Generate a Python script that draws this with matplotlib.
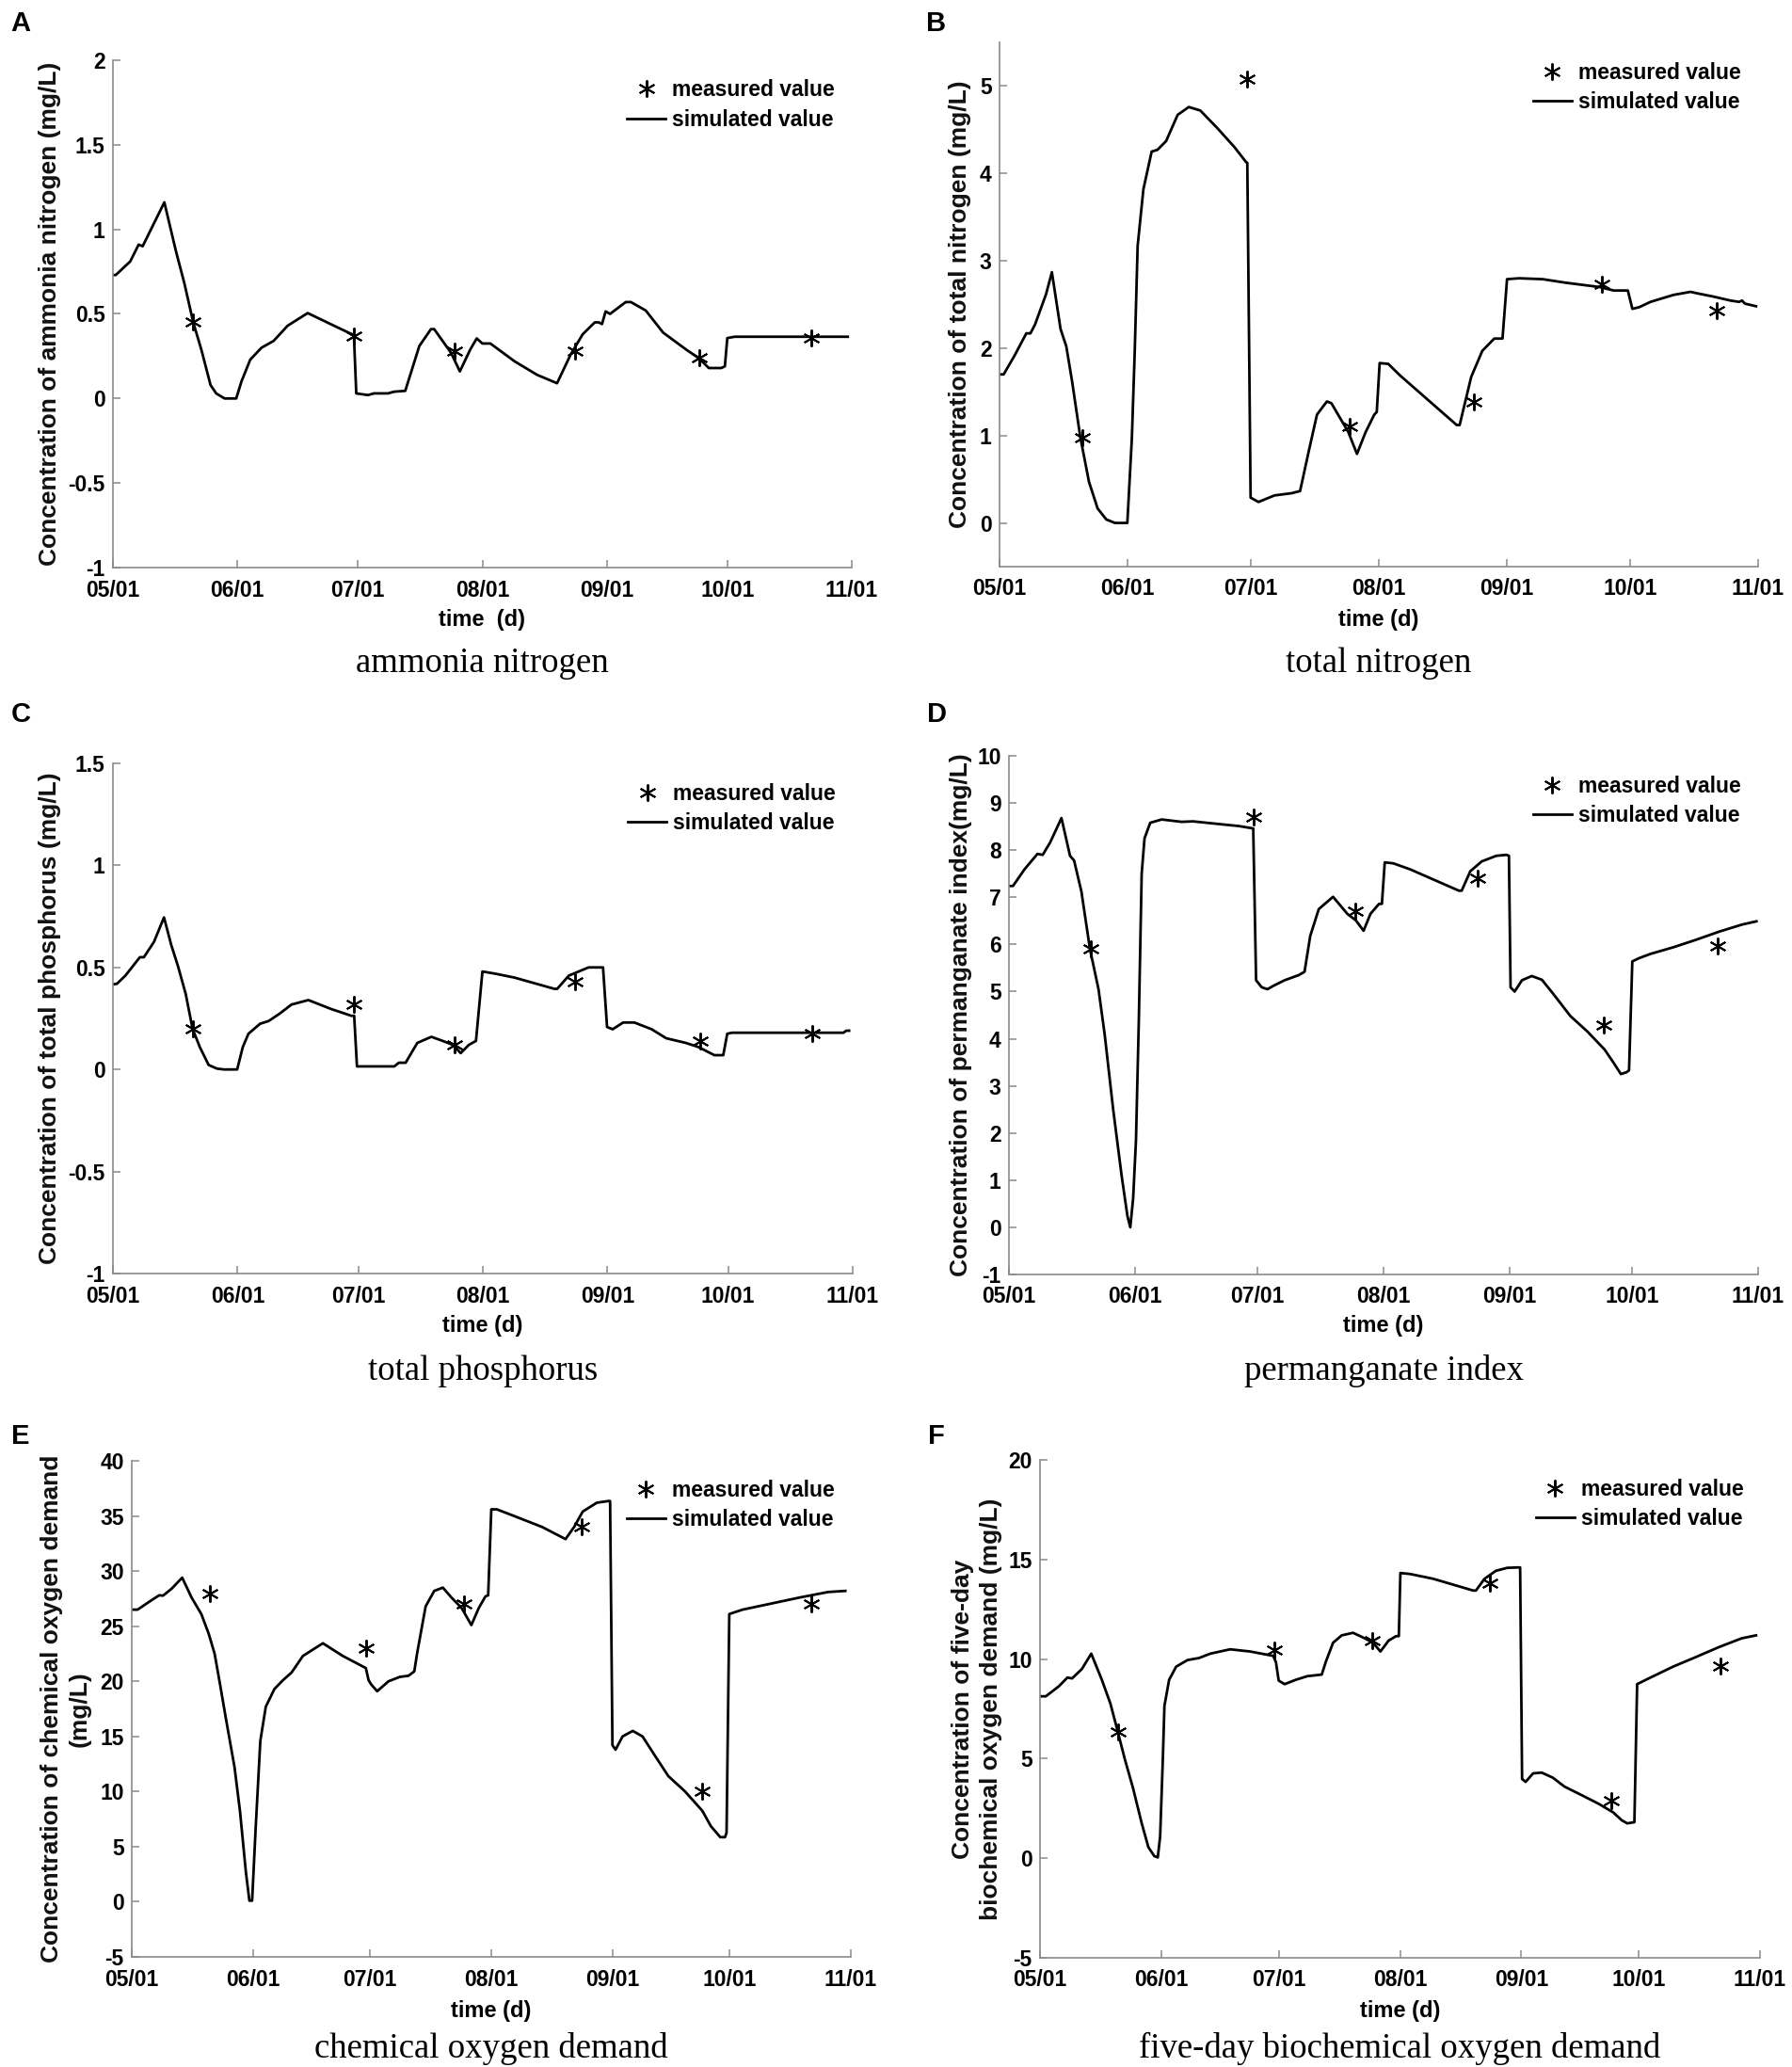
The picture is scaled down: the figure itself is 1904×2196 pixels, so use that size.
import matplotlib
matplotlib.use("Agg")
import matplotlib.pyplot as plt
from matplotlib.lines import Line2D

plt.rcParams["font.family"] = ["Liberation Sans", "DejaVu Sans"]

# x positions are days counted from 05/01
month_ticks = [0, 31, 61, 92, 123, 153, 184]
month_labels = ["05/01", "06/01", "07/01", "08/01", "09/01", "10/01", "11/01"]

meas_days = [20, 60, 85, 115, 146, 174]

# A  ammonia nitrogen
nh3_meas = [0.45, 0.37, 0.28, 0.28, 0.24, 0.36]
nh3_day = [0, 0.7, 4.3, 6.4, 7.4, 12.8, 15.7, 17.8, 20, 22, 24.3, 25.7, 27.8, 30.7, 32, 34.2,
           37, 40, 43.5, 48.5, 54.2, 59.5, 60, 60.6, 63.5, 65, 68.5, 70, 72.8, 76.3, 79.2, 80,
           84.2, 86.4, 89, 90.6, 92, 94, 100, 105.6, 110.6, 114, 117, 120, 121, 121.8, 122.7,
           123.8, 127.7, 129, 132.7, 137, 142.7, 145.8, 148.4, 151.5, 152.4, 153, 154.8, 183]
nh3_sim = [0.73, 0.73, 0.81, 0.91, 0.90, 1.16, 0.87, 0.68, 0.45, 0.29, 0.08, 0.03, 0.0, 0.0, 0.10,
           0.23, 0.30, 0.34, 0.43, 0.505, 0.44, 0.38, 0.38, 0.03, 0.02, 0.03, 0.03, 0.04, 0.045,
           0.31, 0.41, 0.41, 0.27, 0.16, 0.29, 0.355, 0.325, 0.325, 0.22, 0.14, 0.09, 0.26,
           0.38, 0.45, 0.45, 0.44, 0.515, 0.50, 0.57, 0.57, 0.52, 0.39, 0.29, 0.24, 0.18, 0.18,
           0.19, 0.357, 0.365, 0.365]

# B  total nitrogen
tn_meas = [0.98, 5.08, 1.11, 1.39, 2.73, 2.43]
tn_day = [0, 1, 3.7, 6.5, 7.5, 8.6, 11.3, 12.7, 14.8, 16.2, 17.6, 19.6, 21.7, 23.8, 25.9, 28, 31,
          32.1, 32.8, 33.5, 34.9, 36.9, 38.3, 40.4, 43.2, 45.9, 48.7, 52.8, 57, 59.8, 60.1,
          60.9, 62.8, 66.7, 70.8, 72.9, 75, 77, 79.4, 80.5, 84.6, 86.7, 88.8, 90.9, 91.5, 92.2,
          94.3, 97.1, 110.9, 111.6, 114.4, 117.1, 120, 122, 123.1, 126, 131.7, 137.2, 145.5,
          149, 152.4, 153.5, 155.2, 157.9, 163.5, 167.6, 169, 173.2, 177.3, 179.4, 180.1,
          180.8, 183.5]
tn_sim = [1.70, 1.70, 1.92, 2.17, 2.17, 2.27, 2.62, 2.87, 2.22, 2.02, 1.62, 0.98, 0.47, 0.165,
          0.04, 0.0, 0.0, 0.97, 1.97, 3.17, 3.82, 4.25, 4.27, 4.37, 4.67, 4.76, 4.72, 4.52, 4.30,
          4.13, 4.12, 0.29, 0.24, 0.315, 0.34, 0.365, 0.82, 1.24, 1.39, 1.37, 1.04, 0.79, 1.04,
          1.24, 1.27, 1.83, 1.82, 1.69, 1.12, 1.12, 1.67, 1.97, 2.11, 2.11, 2.79, 2.80, 2.79,
          2.75, 2.70, 2.66, 2.66, 2.45, 2.47, 2.53, 2.61, 2.645, 2.63, 2.59, 2.545, 2.53, 2.545,
          2.51, 2.48]

# C  total phosphorus
tp_meas = [0.20, 0.32, 0.12, 0.43, 0.14, 0.175]
tp_day = [0, 1, 3.1, 6.7, 7.7, 10.2, 12.7, 14.5, 16.2, 18.1, 19.8, 21.6, 23.8, 25.9, 27.6, 30.9,
          32.3, 33.7, 36.6, 38.7, 41.5, 44.4, 48.6, 54.3, 59.3, 60, 60.7, 65.7, 70, 71.1, 72.8,
          75.7, 79.2, 82, 84.6, 86.5, 88.5, 90.3, 91.9, 94.9, 99.9, 109.8, 110.5, 113.4, 118.3,
          121.9, 122.9, 124.3, 126.9, 129.7, 134, 137.6, 142.5, 145.6, 149.6, 151.8, 152.8,
          154, 181.7, 182.4, 183.1]
tp_sim = [0.417, 0.42, 0.46, 0.55, 0.55, 0.625, 0.745, 0.61, 0.505, 0.37, 0.20, 0.11, 0.022,
          0.004, 0.0, 0.0, 0.11, 0.175, 0.224, 0.237, 0.274, 0.318, 0.34, 0.296, 0.263, 0.263,
          0.015, 0.015, 0.015, 0.033, 0.033, 0.13, 0.16, 0.14, 0.12, 0.08, 0.12, 0.14, 0.48,
          0.47, 0.45, 0.395, 0.395, 0.46, 0.50, 0.50, 0.208, 0.197, 0.23, 0.23, 0.197, 0.153,
          0.13, 0.11, 0.07, 0.07, 0.175, 0.18, 0.18, 0.19, 0.19]

# D  permanganate index
pi_meas = [5.9, 8.7, 6.7, 7.4, 4.29, 5.97]
pi_day = [0, 1, 3.8, 7, 8.3, 10.1, 12.9, 15, 16, 17.8, 19.9, 22, 23.5, 25.6, 27.7, 29.1, 29.8,
          30.5, 31.2, 31.9, 32.6, 33.3, 34.7, 37.5, 42.4, 45.2, 50.8, 56.5, 60, 60.7, 62.1,
          63.5, 64.9, 67.7, 71.2, 72.6, 74, 76.1, 79.6, 83.1, 85.2, 87.1, 88.8, 90.9, 91.6,
          92.3, 94.4, 98.6, 110.5, 111.2, 113.3, 116.1, 119.7, 122.2, 122.8, 123.2, 124.2, 126,
          128.4, 130.9, 133.7, 137.9, 142.1, 146.3, 148.5, 150.3, 151.7, 152.3, 153.1, 154.8,
          157.6, 163.2, 168.8, 174.4, 180, 183.6]
pi_sim = [7.24, 7.24, 7.59, 7.92, 7.90, 8.16, 8.68, 7.88, 7.78, 7.12, 5.9, 5.05, 4.10, 2.5, 1.08,
          0.24, 0.0, 0.61, 1.84, 4.39, 7.5, 8.25, 8.58, 8.65, 8.60, 8.61, 8.56, 8.51, 8.46, 5.24,
          5.09, 5.05, 5.12, 5.24, 5.35, 5.42, 6.18, 6.75, 7.01, 6.65, 6.51, 6.29, 6.65, 6.86,
          6.86, 7.74, 7.72, 7.59, 7.14, 7.14, 7.55, 7.76, 7.88, 7.90, 7.88, 5.09, 5.00, 5.24,
          5.33, 5.25, 4.95, 4.48, 4.15, 3.77, 3.49, 3.25, 3.29, 3.33, 5.64, 5.71, 5.80, 5.94,
          6.10, 6.27, 6.42, 6.49]

# E  chemical oxygen demand
cod_meas = [28.0, 23.0, 27.0, 34.0, 10.0, 27.0]
cod_day = [0, 1.5, 4.4, 7, 8, 10.2, 12.9, 15.3, 17.8, 19.7, 21.2, 22.6, 24.1, 26.3, 27.7, 29.2,
           30.1, 30.8, 31.7, 32.9, 34.3, 36.5, 38.7, 40.9, 43.8, 48.9, 54, 59.9, 60.6, 61.3,
           62.8, 65.7, 68.6, 70.8, 72.3, 73, 75.2, 77.4, 79.6, 81.8, 84.4, 86.9, 88.8, 90.5,
           91.2, 92, 93.4, 97.8, 105, 111, 113.2, 115.4, 119, 121.9, 122.4, 123, 123.8, 125.6,
           128.2, 130.7, 133.6, 137.3, 141.6, 146, 148.2, 150.6, 151.8, 152.2, 152.9, 156.3,
           163.6, 170.9, 178.2, 182.6]
cod_sim = [26.5, 26.5, 27.2, 27.8, 27.77, 28.4, 29.4, 27.6, 26.1, 24.3, 22.5, 19.7, 16.6, 12.2,
           8.2, 2.7, 0.1, 0.1, 6.65, 14.6, 17.7, 19.3, 20.1, 20.8, 22.3, 23.45, 22.3, 21.2, 20.1,
           19.7, 19.1, 20.0, 20.4, 20.5, 20.9, 22.5, 26.8, 28.2, 28.5, 27.6, 26.65, 25.1, 26.65,
           27.7, 27.8, 35.6, 35.6, 35.0, 34.0, 32.9, 34.0, 35.4, 36.2, 36.35, 36.35, 14.2, 13.8,
           15.0, 15.5, 15.0, 13.4, 11.4, 10.0, 8.25, 6.85, 5.86, 5.86, 6.26, 26.1, 26.5, 27.05,
           27.6, 28.1, 28.2]

# F  five-day biochemical oxygen demand
bod_meas = [6.34, 10.45, 10.93, 13.8, 2.9, 9.66]
bod_day = [0, 1.5, 4.8, 7, 8.2, 10.7, 13.1, 15.8, 18, 19.9, 21.6, 23.8, 26, 27.7, 29.2, 30.1,
           30.7, 31.4, 31.8, 33, 34.8, 37.7, 40.6, 43.5, 48.6, 53.7, 59.6, 60.3, 61, 62.5, 65.4,
           68.3, 72, 73, 74.9, 77.1, 80, 83, 85.1, 87, 89.1, 91, 91.7, 92.1, 94.6, 100.5, 110.7,
           111.4, 113.6, 116.5, 119.4, 122.1, 122.7, 123.2, 124.1, 126, 128.2, 131.1, 134,
           138.4, 142.8, 146.5, 148.7, 150.1, 151.9, 152.6, 156, 161.8, 167.6, 173.5, 179.3, 183]
bod_sim = [8.13, 8.13, 8.63, 9.07, 9.03, 9.5, 10.27, 8.96, 7.76, 6.34, 5.03, 3.5, 1.75, 0.55,
           0.11, 0.04, 1.09, 5.03, 7.65, 8.96, 9.62, 9.95, 10.05, 10.27, 10.49, 10.38, 10.16,
           9.84, 8.92, 8.74, 8.96, 9.14, 9.22, 9.84, 10.82, 11.19, 11.32, 11.04, 10.82, 10.38,
           10.93, 11.15, 11.15, 14.32, 14.27, 14.03, 13.44, 13.44, 14.03, 14.43, 14.58, 14.6,
           14.6, 3.98, 3.83, 4.26, 4.3, 4.04, 3.6, 3.17, 2.73, 2.3, 1.9, 1.75, 1.81, 8.74, 9.07,
           9.62, 10.1, 10.6, 11.04, 11.19]

W, H = 1904, 2196

panels = [
    # letter, rect (left, top, right, bottom) px, ylim, yticks, ylabel, xlabel, caption, data
    ("A", (120, 64, 905, 603), (-1, 2), [-1, -0.5, 0, 0.5, 1, 1.5, 2],
     "Concentration of ammonia nitrogen (mg/L)", "time  (d)", "ammonia nitrogen",
     nh3_day, nh3_sim, nh3_meas, 53),
    ("B", (1062, 45, 1868, 602), (-0.5, 5.5), [0, 1, 2, 3, 4, 5],
     "Concentration of total nitrogen (mg/L)", "time (d)", "total nitrogen",
     tn_day, tn_sim, tn_meas, 1020),
    ("C", (120, 811, 906, 1353), (-1, 1.5), [-1, -0.5, 0, 0.5, 1, 1.5],
     "Concentration of total phosphorus (mg/L)", "time (d)", "total phosphorus",
     tp_day, tp_sim, tp_meas, 53),
    ("D", (1072, 803, 1868, 1354), (-1, 10), list(range(-1, 11)),
     "Concentration of permanganate index(mg/L)", "time (d)", "permanganate index",
     pi_day, pi_sim, pi_meas, 1021),
    ("E", (140, 1552, 904, 2079), (-5, 40), list(range(-5, 41, 5)),
     "Concentration of chemical oxygen demand\n(mg/L)", "time (d)", "chemical oxygen demand",
     cod_day, cod_sim, cod_meas, 70),
    ("F", (1105, 1551, 1870, 2080), (-5, 20), [-5, 0, 5, 10, 15, 20],
     "Concentration of five-day\nbiochemical oxygen demand (mg/L)", "time (d)",
     "five-day biochemical oxygen demand",
     bod_day, bod_sim, bod_meas, 1038),
]

letter_pos = {"A": (22, 25), "B": (995, 25), "C": (22, 759), "D": (995, 759),
              "E": (22, 1526), "F": (995, 1526)}
xlabel_y = {"A": 659, "B": 659, "C": 1408, "D": 1408, "E": 2137, "F": 2137}
caption_y = {"A": 705, "B": 705, "C": 1457, "D": 1457, "E": 2176, "F": 2176}

fig = plt.figure(figsize=(W / 100, H / 100), dpi=100)
spine_col = "#8a8a8a"

for (letter, (l, t, r, b), ylim, yticks, ylab, xlab, cap,
     sday, ssim, meas, ylab_x) in panels:
    ax = fig.add_axes([l / W, 1 - b / H, (r - l) / W, (b - t) / H])
    ax.plot(sday, ssim, color="black", lw=2.0, zorder=2, solid_joinstyle="round")
    ax.plot(meas_days, meas, linestyle="none", marker=(6, 2, 0), markersize=13,
            markeredgewidth=1.4, color="black", zorder=3)
    ax.set_xlim(0, 184)
    ax.set_ylim(*ylim)
    ax.set_xticks(month_ticks)
    ax.set_xticklabels(month_labels)
    ax.set_yticks(yticks)
    ax.set_yticklabels([f"{v:g}" for v in yticks])
    for s in ("top", "right"):
        ax.spines[s].set_visible(False)
    for s in ("left", "bottom"):
        ax.spines[s].set_color(spine_col)
        ax.spines[s].set_linewidth(1.2)
    ax.tick_params(direction="in", length=6, width=1.1, color=spine_col,
                   labelsize=16.5, labelcolor="black")
    ax.tick_params(axis="x", pad=9)
    ax.tick_params(axis="y", pad=6)
    for lab in ax.get_xticklabels() + ax.get_yticklabels():
        lab.set_fontweight("bold")

    ax.set_ylabel(ylab, fontsize=19, fontweight="bold", linespacing=1.3,
                  color="#111111", va="center")
    ax.yaxis.set_label_coords((ylab_x - l) / (r - l), 0.5)

    cx = (l + r) / 2 / W
    fig.text(cx, 1 - xlabel_y[letter] / H, xlab, ha="center", va="center",
             fontsize=17, fontweight="bold")
    fig.text(cx, 1 - caption_y[letter] / H, cap, ha="center", va="center",
             fontsize=26.5, family=["Liberation Serif", "DejaVu Serif"])
    lx, ly = letter_pos[letter]
    fig.text(lx / W, 1 - ly / H, letter, ha="center", va="center",
             fontsize=21, fontweight="bold")

    handles = [Line2D([], [], linestyle="none", marker=(6, 2, 0), markersize=13,
                      markeredgewidth=1.4, color="black"),
               Line2D([], [], color="black", lw=2.0)]
    ax.legend(handles, ["measured value", "simulated value"],
              loc="upper right", bbox_to_anchor=(0.977, 0.962),
              frameon=False, borderpad=0, borderaxespad=0,
              handlelength=1.8, handletextpad=0.3, labelspacing=0.36,
              prop={"weight": "bold", "size": 16.5})

fig.savefig("out.png", dpi=100)
